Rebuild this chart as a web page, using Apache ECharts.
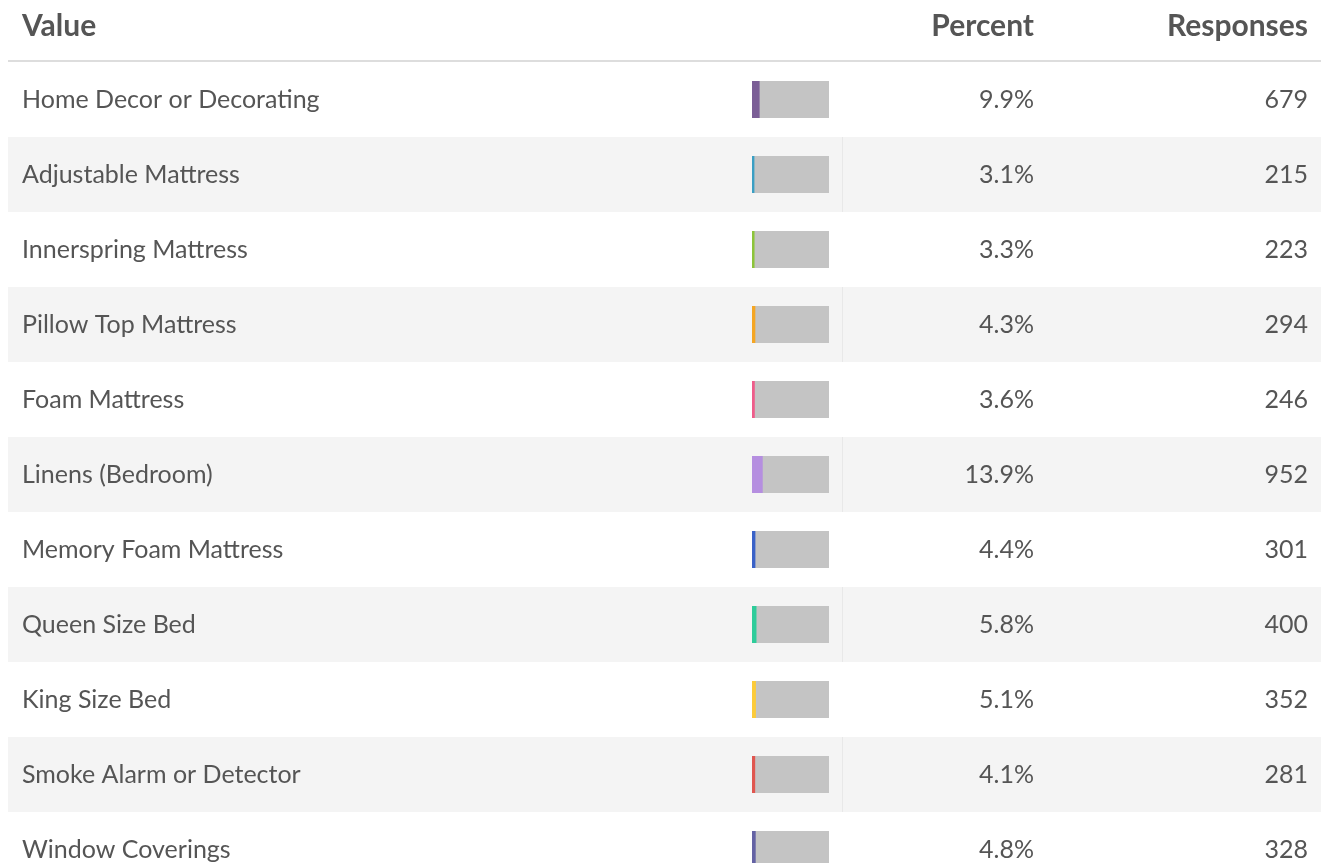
<!DOCTYPE html>
<html>
<head>
<meta charset="utf-8">
<script src="https://cdn.jsdelivr.net/npm/echarts@6/dist/echarts.min.js"></script>
<style>
html,body{margin:0;padding:0;background:#fff;overflow:hidden;width:1321px;height:863px;}
#chart{width:1321px;height:887px;}
</style>
</head>
<body>
<div id="chart"></div>
<script>
const categories = [
  'Home Decor or Decorating','Adjustable Mattress','Innerspring Mattress','Pillow Top Mattress',
  'Foam Mattress','Linens (Bedroom)','Memory Foam Mattress','Queen Size Bed','King Size Bed',
  'Smoke Alarm or Detector','Window Coverings'
];
const percents = [9.9, 3.1, 3.3, 4.3, 3.6, 13.9, 4.4, 5.8, 5.1, 4.1, 4.8];
const responses = [679, 215, 223, 294, 246, 952, 301, 400, 352, 281, 328];
const colors = ['#7b5e96','#3a9fc4','#8cc43a','#f5a623','#ef5c8a','#b58ee0','#3a62c8','#2ecc9a','#fccb3a','#e0564f','#6462a4'];
const headers = ['Value','Percent','Responses'];

const FONT = 'Lato';
const TXT = '#555555';
const TOP = 62, ROWH = 75;
const H = ROWH * categories.length;

function catAxis(gridIndex, extra) {
  return Object.assign({
    type: 'category', gridIndex, data: categories, inverse: true,
    axisLine: {show: false}, axisTick: {show: false}, axisLabel: {show: false},
    splitLine: {show: false}
  }, extra || {});
}
function valAxis(gridIndex, extra) {
  return Object.assign({
    type: 'value', gridIndex, show: false, min: 0, max: 100,
    splitLine: {show: false}
  }, extra || {});
}

const option = {
  animation: false,
  backgroundColor: '#ffffff',
  grid: [
    {left: 8, right: 0, top: TOP, height: H},       // row backgrounds + value labels
    {left: 842, width: 1, top: TOP, height: H},     // column separator
    {left: 752, width: 77, top: TOP, height: H},    // bars
    {left: 843, right: 287, top: TOP, height: H},   // percent column
    {left: 1040, right: 13, top: TOP, height: H}    // responses column
  ],
  xAxis: [valAxis(0), valAxis(1), valAxis(2), valAxis(3), valAxis(4)],
  yAxis: [
    catAxis(0, {
      splitArea: {show: true, interval: 0, areaStyle: {color: ['#ffffff', '#f4f4f4']}},
      axisLabel: {show: true, inside: true, margin: 14, align: 'left', interval: 0,
        color: TXT, fontFamily: FONT, fontSize: 25}
    }),
    catAxis(1, {
      splitArea: {show: true, interval: 0, areaStyle: {color: ['rgba(0,0,0,0)', '#e8e8e8']}}
    }),
    catAxis(2),
    catAxis(3, {
      position: 'right', data: percents.map(p => p.toFixed(1) + '%'),
      axisLabel: {show: true, inside: true, margin: 0, interval: 0,
        color: TXT, fontFamily: FONT, fontSize: 25}
    }),
    catAxis(4, {
      position: 'right', data: responses.map(String),
      axisLabel: {show: true, inside: true, margin: 0, interval: 0,
        color: TXT, fontFamily: FONT, fontSize: 25}
    })
  ],
  series: [{
    type: 'bar', xAxisIndex: 2, yAxisIndex: 2, barWidth: 37,
    showBackground: true, backgroundStyle: {color: '#c4c4c4'},
    data: percents.map((p, i) => ({value: p, itemStyle: {color: colors[i]}}))
  }],
  graphic: [
    {type: 'rect', left: 8, top: 60, shape: {width: 1313, height: 2}, style: {fill: '#dddddd'}, z: 10},
    {type: 'text', x: 22, y: 26, style: {text: headers[0], font: 'bold 30px Lato', fill: TXT, textAlign: 'left', textVerticalAlign: 'middle'}},
    {type: 'text', x: 1034, y: 26, style: {text: headers[1], font: 'bold 30px Lato', fill: TXT, textAlign: 'right', textVerticalAlign: 'middle'}},
    {type: 'text', x: 1308, y: 26, style: {text: headers[2], font: 'bold 30px Lato', fill: TXT, textAlign: 'right', textVerticalAlign: 'middle'}}
  ]
};

const chart = echarts.init(document.getElementById('chart'), null, {renderer: 'canvas'});
chart.setOption(option);
</script>
</body>
</html>
